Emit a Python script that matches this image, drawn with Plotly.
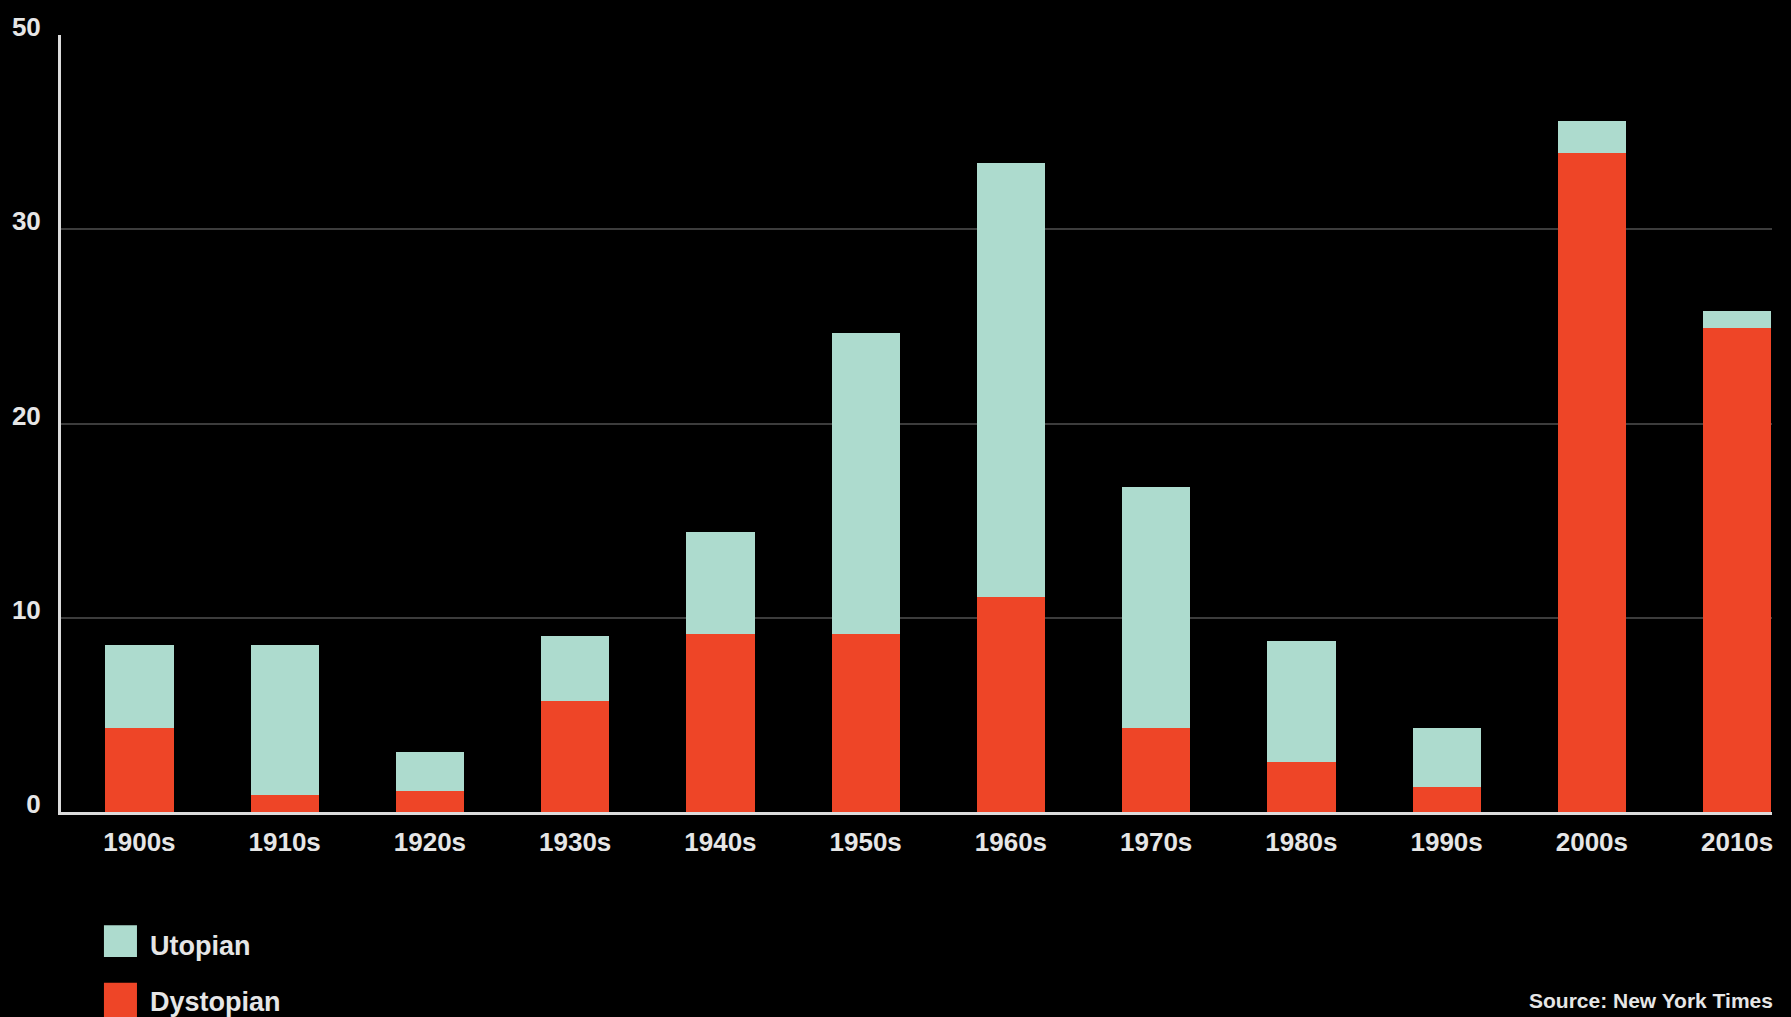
# Utopian vs dystopian novels per decade, stacked bars
import plotly.graph_objects as go

# Data
decades = ["1900s", "1910s", "1920s", "1930s", "1940s", "1950s",
           "1960s", "1970s", "1980s", "1990s", "2000s", "2010s"]
dystopian = [4.3, 0.9, 1.1, 5.7, 9.15, 9.15, 11.05, 4.3, 2.55, 1.3, 33.9, 24.9]
utopian = [4.3, 7.7, 2.0, 3.35, 5.25, 15.5, 22.35, 12.45, 6.25, 3.0, 1.65, 0.9]

y_tickvals = [0, 10, 20, 30, 40]
y_ticktext = ["0", "10", "20", "30", "50"]

# Colours
red = "#EE4527"
teal = "#ADDBCE"
text_col = "#E6E6E6"
font_family = "Liberation Sans, Arial, sans-serif"

fig = go.Figure()
fig.add_trace(go.Bar(x=decades, y=dystopian, name="Dystopian",
                     marker=dict(color=red, line=dict(width=0))))
fig.add_trace(go.Bar(x=decades, y=utopian, name="Utopian",
                     marker=dict(color=teal, line=dict(width=0))))

fig.update_layout(
    barmode="stack",
    bargap=0.53,
    showlegend=False,
    width=1791, height=1017,
    paper_bgcolor="black", plot_bgcolor="black",
    margin=dict(l=61, r=19, t=29, b=205),
    font=dict(family=font_family, color=text_col, size=26, weight="bold"),
    xaxis=dict(range=[-0.54, 11.24], showgrid=False, ticks="",
               showline=True, linecolor="#DCDCDC", linewidth=3,
               ticklabelstandoff=5, tickfont=dict(size=26)),
    yaxis=dict(range=[0, 40], tickmode="array", tickvals=y_tickvals, ticktext=y_ticktext,
               showgrid=True, gridcolor="#3C3C3C", gridwidth=2, zeroline=False,
               showline=True, linecolor="#DCDCDC", linewidth=3, ticks="",
               ticklabelstandoff=12, ticklabelshift=-8, tickfont=dict(size=26)),
)

# Hand-made legend with big square swatches
legend_items = [("Utopian", teal, -0.1456, -0.1865, -0.172),
                ("Dystopian", red, -0.2197, -0.27, -0.245)]
for label, colour, y0, y1, ytxt in legend_items:
    fig.add_shape(type="rect", xref="paper", yref="paper",
                  x0=0.0251, x1=0.0444, y0=y0, y1=y1,
                  fillcolor=colour, line=dict(width=0))
    fig.add_annotation(text=label, xref="paper", yref="paper", x=0.0508, y=ytxt,
                       xanchor="left", yanchor="middle", showarrow=False,
                       font=dict(size=27, color=text_col, weight="bold"))

fig.add_annotation(text="Source: New York Times", xref="paper", yref="paper",
                   x=1.0017, y=-0.243, xanchor="right", yanchor="middle", showarrow=False,
                   font=dict(size=21, color=text_col, weight="bold"))

# drop the page margin so the black figure fills the window
fig.write_html("out.html", config={"displayModeBar": False},
               post_script="document.body.style.margin='0';document.body.style.background='black';")
